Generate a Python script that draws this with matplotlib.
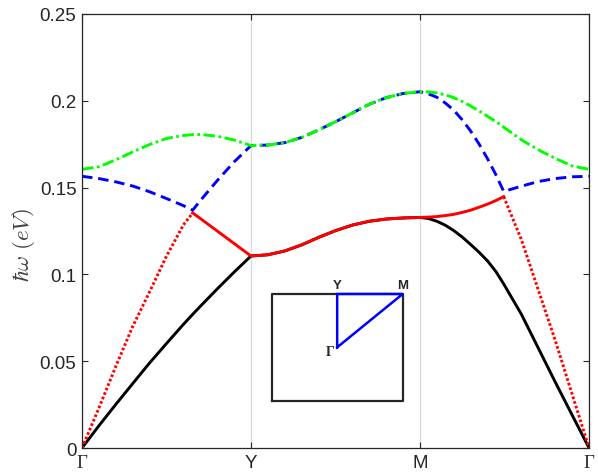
import matplotlib
matplotlib.use('Agg')
import matplotlib.pyplot as plt
import numpy as np

plt.rcParams['mathtext.fontset'] = 'cm'
plt.rcParams['font.family'] = ['Liberation Sans', 'DejaVu Sans']

# ---- data ----
k = [0, 0.1, 0.2, 0.3, 0.4, 0.5, 0.6, 0.655, 0.7, 0.8, 0.9, 1.0,
     1.1, 1.2, 1.3, 1.4, 1.5, 1.6, 1.7, 1.8, 1.9, 2.0,
     2.05, 2.1, 2.15, 2.2, 2.25, 2.3, 2.35, 2.4, 2.45, 2.495, 2.6, 2.7, 2.8, 2.9, 3.0]

black = [0, 0.0128, 0.0251, 0.0371, 0.0490, 0.0602, 0.0712, 0.0770, 0.0816, 0.0916, 0.1013, 0.1106,
         0.1113, 0.1135, 0.1170, 0.1213, 0.1252, 0.1284, 0.1306, 0.1319, 0.1325, 0.1328,
         0.1322, 0.1306, 0.1283, 0.1252, 0.1215, 0.1172, 0.1127, 0.1077, 0.1015, 0.0945,
         0.0770, 0.0575, 0.0380, 0.0190, 0]

red = [0, 0.0230, 0.0470, 0.0700, 0.0900, 0.1105, 0.1285, 0.1354, 0.1322, 0.1250, 0.1178, 0.1106,
       0.1113, 0.1135, 0.1170, 0.1213, 0.1252, 0.1284, 0.1306, 0.1319, 0.1325, 0.1328,
       0.1330, 0.1333, 0.1339, 0.1346, 0.1357, 0.1370, 0.1387, 0.1405, 0.1426, 0.1448,
       0.1200, 0.0910, 0.0620, 0.0310, 0]

blue = [0.1565, 0.1552, 0.1533, 0.1509, 0.1476, 0.1437, 0.1396, 0.1370, 0.1425, 0.1540, 0.1648, 0.1742,
        0.1745, 0.1759, 0.1789, 0.1832, 0.1879, 0.1930, 0.1980, 0.2018, 0.2042, 0.2052,
        0.2040, 0.2020, 0.1987, 0.1945, 0.1890, 0.1825, 0.1750, 0.1665, 0.1572, 0.1478,
        0.1508, 0.1535, 0.1552, 0.1562, 0.1565]

green = [0.1605, 0.1620, 0.1660, 0.1705, 0.1748, 0.1783, 0.1800, 0.1805, 0.1806, 0.1796, 0.1774, 0.1742,
         0.1745, 0.1759, 0.1789, 0.1832, 0.1879, 0.1930, 0.1980, 0.2018, 0.2042, 0.2052,
         0.2051, 0.2045, 0.2034, 0.2018, 0.1996, 0.1970, 0.1941, 0.1910, 0.1880, 0.1848,
         0.1775, 0.1718, 0.1668, 0.1625, 0.1605]

red_kinks = [0.655, 2.495]   # where the red branch switches between dotted and solid

tick_pos = [0, 1, 2, 3]
tick_labels = ['Γ', 'Y', 'M', 'Γ']
yticks = [0, 0.05, 0.1, 0.15, 0.2, 0.25]
ytick_labels = ['0', '0.05', '0.1', '0.15', '0.2', '0.25']

# ---- figure ----
fig = plt.figure(figsize=(5.98, 4.77), dpi=100)
ax = fig.add_axes([0.1371, 0.0587, 0.8479, 0.9099])

kk = np.array(k)
r = np.array(red)
ax.grid(True, axis='x', color='#dcdcdc', lw=1.0)
ax.set_axisbelow(True)

LW = 2.1
ax.plot(kk, black, color='black', lw=LW)
m1 = kk <= red_kinks[0]
m2 = (kk >= red_kinks[0]) & (kk <= red_kinks[1])
m3 = kk >= red_kinks[1]
ax.plot(kk[m1], r[m1], color='red', lw=LW, dashes=(0.9, 0.75))
ax.plot(kk[m2], r[m2], color='red', lw=LW)
ax.plot(kk[m3], r[m3], color='red', lw=LW, dashes=(0.9, 0.75))
ax.plot(kk, blue, color='blue', lw=LW, dashes=(3.6, 2.0))
ax.plot(kk, green, color='#00ff00', lw=LW, dashes=(4.0, 1.2, 0.9, 1.2))

ax.set_xlim(0, 3)
ax.set_ylim(0, 0.25)
ax.set_xticks(tick_pos)
ax.set_xticklabels(tick_labels)
ax.set_yticks(yticks)
ax.set_yticklabels(ytick_labels)
for i, lab in enumerate(ax.get_xticklabels()):
    if tick_labels[i] == 'Γ':
        lab.set_fontfamily('Liberation Serif')
        lab.set_fontsize(15)

ax.tick_params(direction='in', length=4, width=0.8, colors='#262626',
               labelsize=13.5, top=True, right=True, pad=4)
ax.tick_params(axis='x', pad=4)
for s in ax.spines.values():
    s.set_color('#262626')
    s.set_linewidth(0.9)

ax.set_ylabel(r'$\hbar\omega\ (eV)$', fontsize=16.5, color='#404040')
ax.yaxis.set_label_coords(-0.088, 0.47)

# ---- inset Brillouin zone ----
ai = fig.add_axes([0.4543, 0.1580, 0.2191, 0.2236])
ai.set_xlim(-1, 1)
ai.set_ylim(-1, 1)
ai.axis('off')
ai.plot([-1, 1, 1, -1, -1], [-1, -1, 1, 1, -1], color='#262626', lw=1.6, clip_on=False)
ai.plot([0, 0, 1, 0], [0, 1, 1, 0], color='blue', lw=1.8, clip_on=False, solid_joinstyle='miter')
ai.text(0, 1.05, 'Y', ha='center', va='bottom', fontsize=9.5, fontweight='bold', color='#262626')
ai.text(1, 1.05, 'M', ha='center', va='bottom', fontsize=9.5, fontweight='bold', color='#262626')
ai.text(-0.04, -0.07, 'Γ', ha='right', va='center', fontsize=10, fontweight='bold',
        family='Liberation Serif', color='#262626')

fig.savefig('out.png', dpi=100)
